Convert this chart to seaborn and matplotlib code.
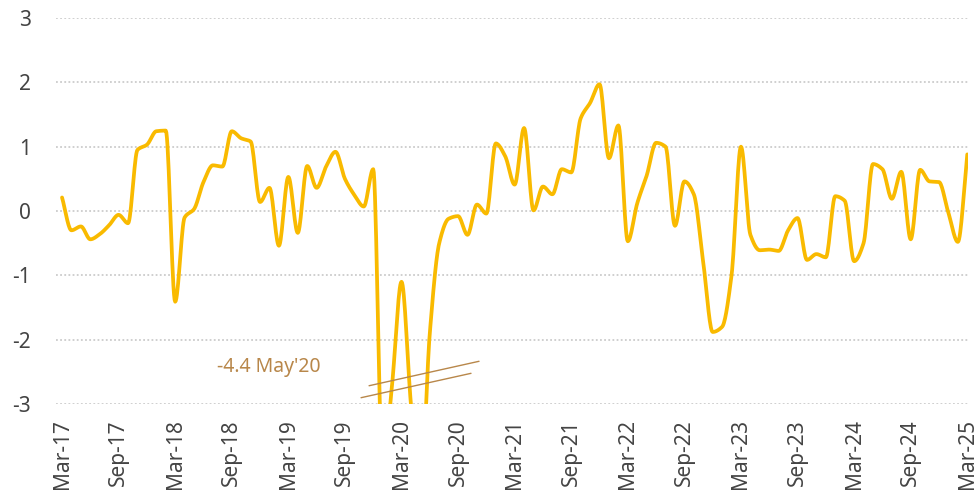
import numpy as np
import pandas as pd
import seaborn as sns
import matplotlib.pyplot as plt

# Style
sns.set_theme(style="white")
plt.rcParams['font.family'] = ['Noto Sans', 'DejaVu Sans']
plt.rcParams['axes.unicode_minus'] = False

LINE_COLOR = "#F9BA00"
NOTE_COLOR = "#B8874A"
TEXT_COLOR = "#444444"

# Monthly series, Mar-17 .. Mar-25
months = pd.date_range("2017-03-01", "2025-03-01", freq="MS")
month_labels = list(months.strftime("%b-%y"))

values = [
    # 2017 (Mar-Dec)
    0.21, -0.30, -0.24, -0.44, -0.36, -0.22, -0.06, -0.19, 0.95, 1.03,
    # 2018
    1.24, 1.25, -1.41, -0.10, 0.03, 0.45, 0.71, 0.69, 1.24, 1.13, 1.08, 0.14,
    # 2019
    0.36, -0.54, 0.53, -0.34, 0.70, 0.36, 0.69, 0.92, 0.50, 0.25, 0.07, 0.65,
    # 2020
    -4.0, -2.7, -1.10, -3.0, -4.4, -1.9, -0.50, -0.12, -0.08, -0.37, 0.10, -0.04,
    # 2021
    1.05, 0.85, 0.41, 1.29, 0.01, 0.38, 0.26, 0.65, 0.60, 1.44, 1.68, 1.97,
    # 2022
    0.82, 1.33, -0.47, 0.12, 0.55, 1.06, 1.00, -0.23, 0.46, 0.26, -0.80, -1.88,
    # 2023
    -1.80, -1.00, 1.00, -0.37, -0.61, -0.60, -0.62, -0.30, -0.11, -0.76, -0.67, -0.72,
    # 2024
    0.23, 0.16, -0.78, -0.50, 0.73, 0.65, 0.19, 0.61, -0.44, 0.64, 0.46, 0.45,
    # 2025 (Jan-Mar)
    -0.03, -0.48, 0.88,
]

note_text = "-4.4 May'20"


def monotone_curve(x, y, steps=16):
    # monotone cubic (Fritsch-Carlson) so the line looks smooth like the original
    x = np.asarray(x, float)
    y = np.asarray(y, float)
    h = np.diff(x)
    d = np.diff(y) / h
    m = np.zeros_like(y)
    m[0], m[-1] = d[0], d[-1]
    for i in range(1, len(y) - 1):
        if d[i - 1] * d[i] > 0:
            w1 = 2 * h[i] + h[i - 1]
            w2 = h[i] + 2 * h[i - 1]
            m[i] = (w1 + w2) / (w1 / d[i - 1] + w2 / d[i])
    xs, ys = [], []
    for i in range(len(x) - 1):
        t = np.linspace(0, 1, steps, endpoint=False)
        h00 = 2 * t**3 - 3 * t**2 + 1
        h10 = t**3 - 2 * t**2 + t
        h01 = -2 * t**3 + 3 * t**2
        h11 = t**3 - t**2
        xs.append(x[i] + t * h[i])
        ys.append(h00 * y[i] + h10 * h[i] * m[i] + h01 * y[i + 1] + h11 * h[i] * m[i + 1])
    xs.append([x[-1]])
    ys.append([y[-1]])
    return np.concatenate(xs), np.concatenate(ys)


idx = np.arange(len(values))
cx, cy = monotone_curve(idx, values)
curve = pd.DataFrame({"x": cx, "y": cy})

fig, ax = plt.subplots(figsize=(9.79, 4.97), dpi=100)
fig.subplots_adjust(left=0.0572, right=0.9888, top=0.9638, bottom=0.1871)

sns.lineplot(data=curve, x="x", y="y", color=LINE_COLOR, lw=2.7, ax=ax, sort=False)

# axis break marks + note for the clipped trough
ax.plot([32.56, 44.22], [-2.716, -2.336], color=NOTE_COLOR, lw=1.0)
ax.plot([31.71, 43.37], [-2.902, -2.523], color=NOTE_COLOR, lw=1.0)
ax.text(16.4, -2.43, note_text, color=NOTE_COLOR, fontsize=14, va="center", ha="left")

ax.set_ylim(-3, 3)
ax.set_xlim(-0.64, 96.08)
ax.set_yticks(range(-3, 4))
ax.set_xticks(idx[::6])
ax.set_xticklabels(month_labels[::6], rotation=90)
ax.set_xlabel("")
ax.set_ylabel("")

ax.grid(axis="y", color="#cccccc", lw=1.3, linestyle=(0, (1, 1.3)))
ax.grid(axis="x", visible=False)
for s in ax.spines.values():
    s.set_visible(False)
ax.tick_params(axis="y", length=0, labelsize=15, colors=TEXT_COLOR, pad=18)
ax.tick_params(axis="x", length=0, labelsize=15, colors=TEXT_COLOR, pad=11)

fig.savefig("out.png", dpi=100)
